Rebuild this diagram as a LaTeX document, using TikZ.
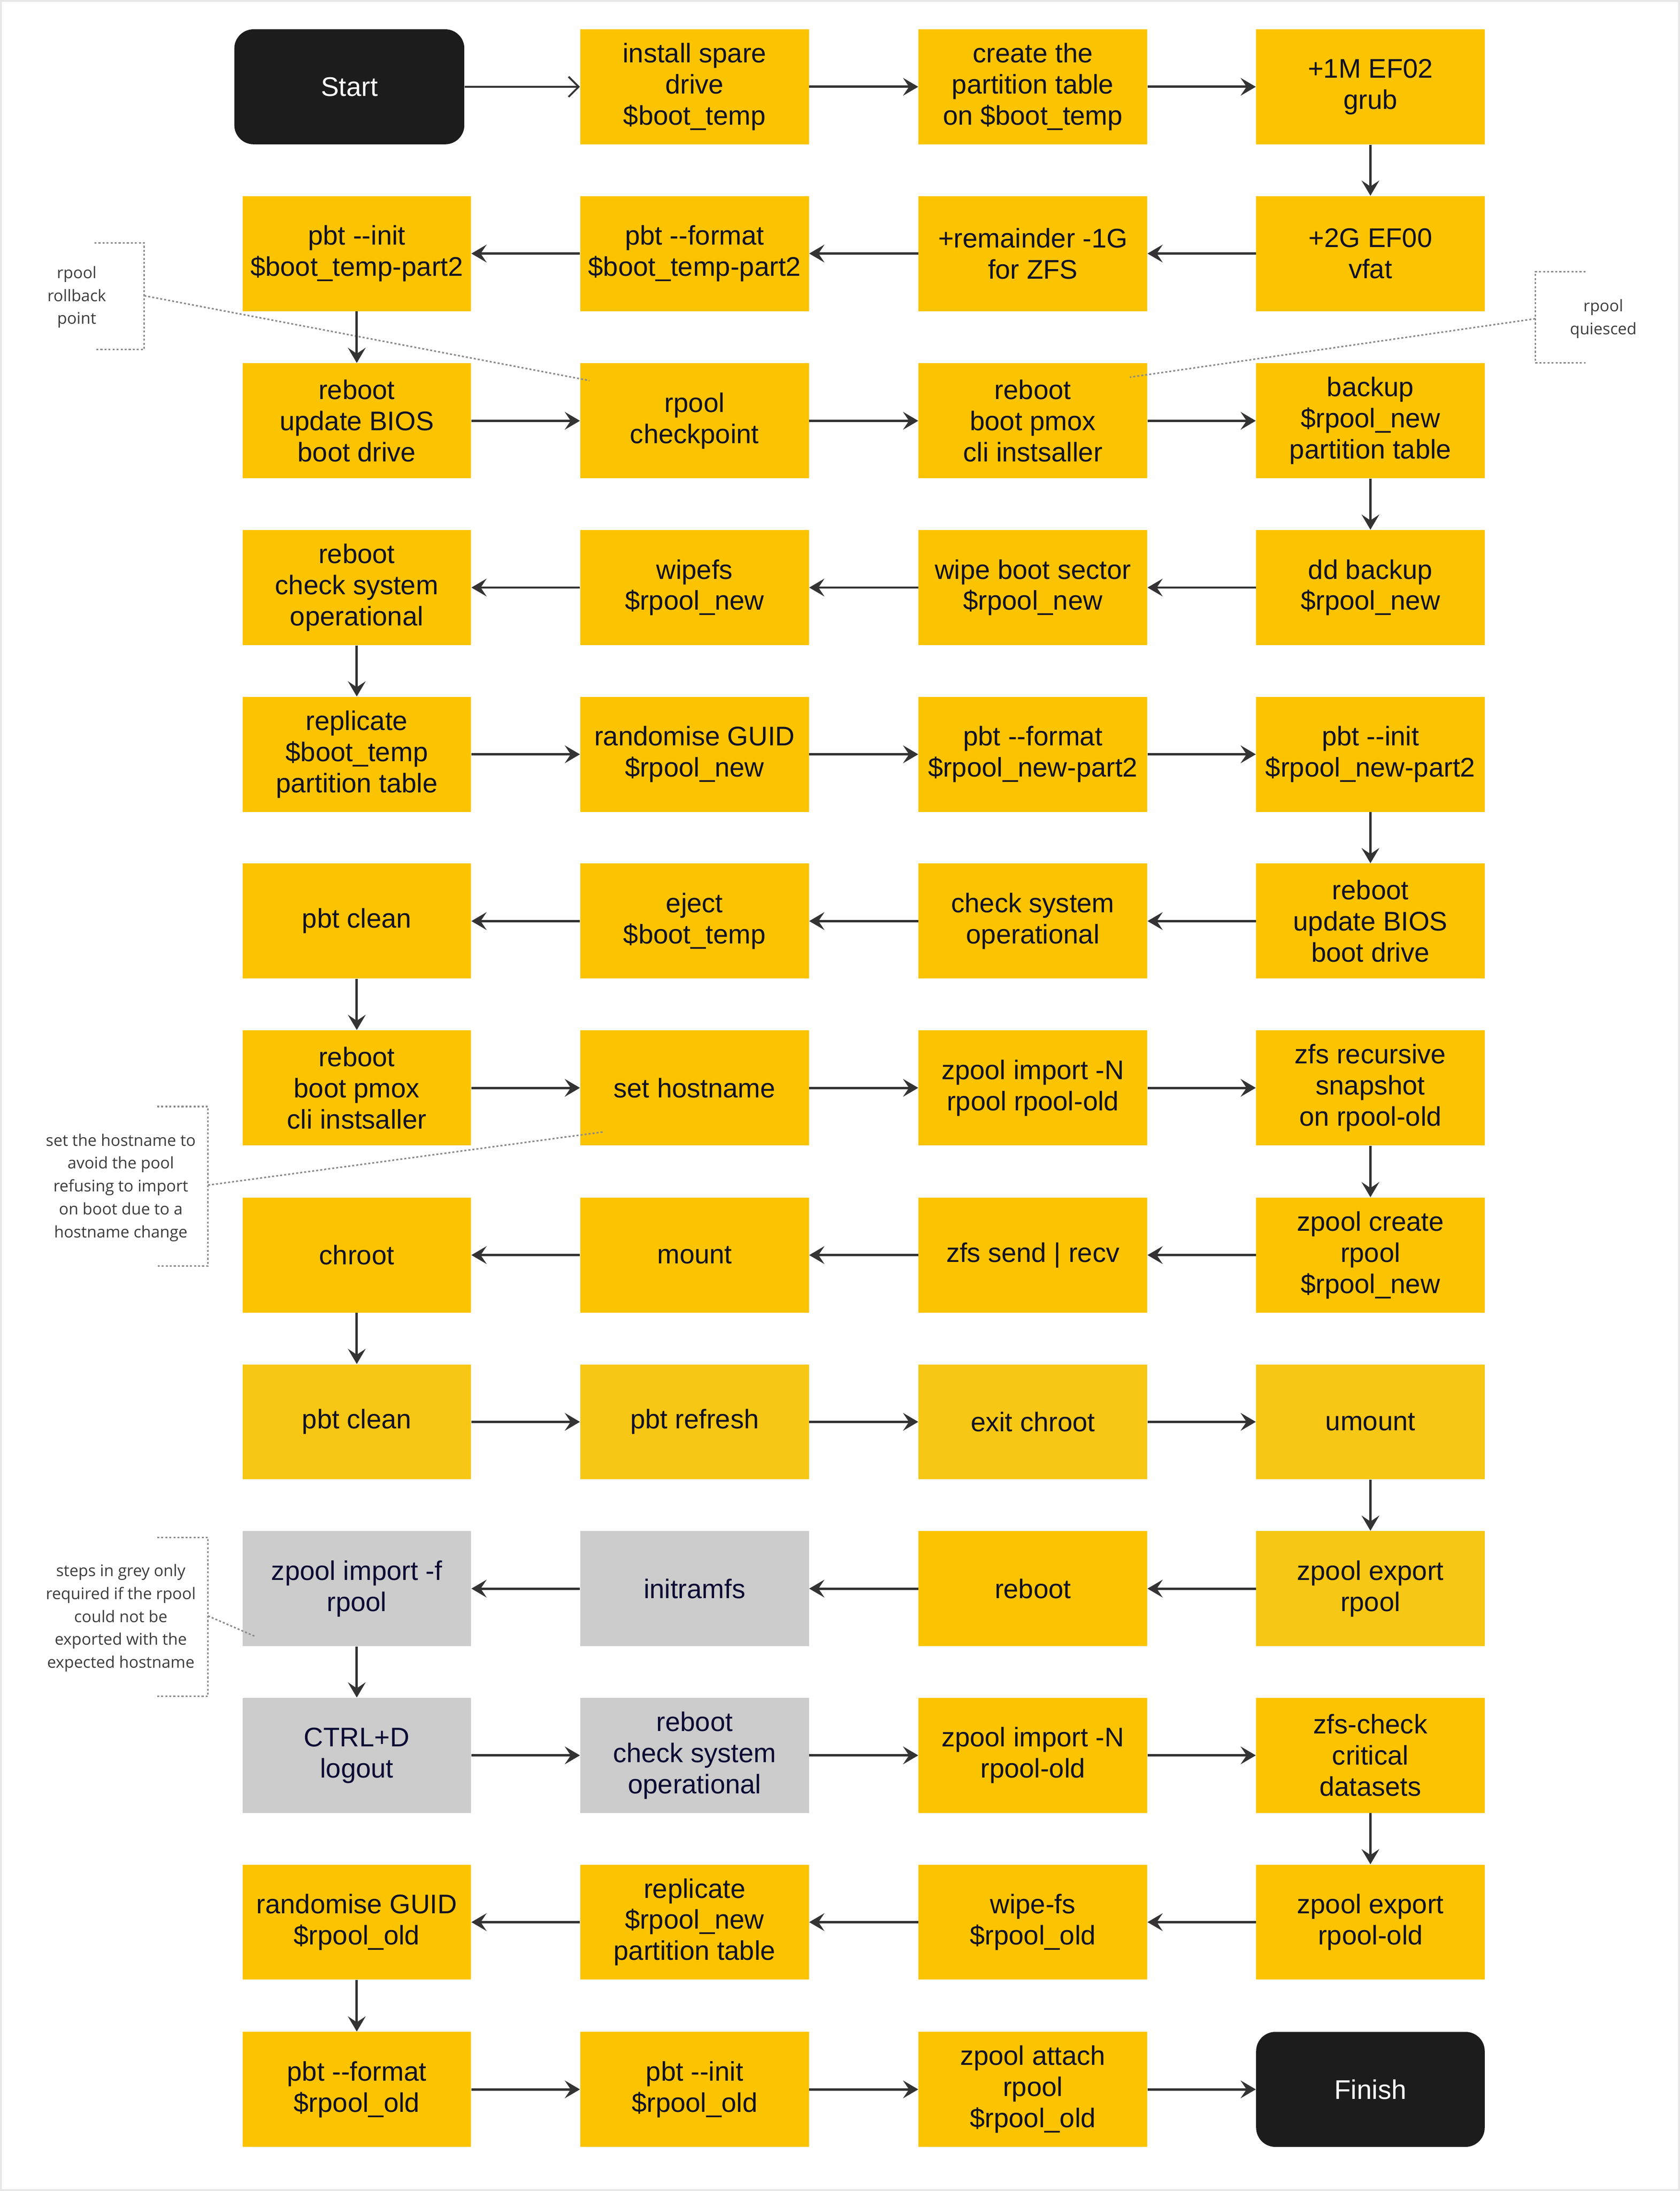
\documentclass[tikz,border=0pt]{standalone}
\usepackage{fontspec}
\setmainfont{Liberation Sans}[Ligatures=TeXOff]
\newfontfamily\notefont{Open Sans}
\usetikzlibrary{arrows.meta}

\definecolor{stepyellow}{HTML}{FCC400}
\definecolor{stepyellowalt}{HTML}{F6C714}
\definecolor{stepgrey}{HTML}{CCCCCC}
\definecolor{steptext}{HTML}{111122}
\definecolor{greytext}{HTML}{0A0A33}
\definecolor{termblack}{HTML}{1C1C1C}
\definecolor{arrowgrey}{HTML}{333333}
\definecolor{dotgrey}{HTML}{8A8A8A}
\definecolor{notetext}{HTML}{3C3C3C}
\definecolor{framegrey}{HTML}{E8E8E8}

\begin{document}
\begin{tikzpicture}[x=1cm, y=1cm,
  every node/.style={draw=none, inner sep=0pt, align=center},
  stepbox/.style={rectangle, fill=stepyellow, text=steptext, minimum width=4.77cm, minimum height=2.4cm, font=\fontsize{16}{18.5}\selectfont},
  stepalt/.style={stepbox, fill=stepyellowalt},
  greybox/.style={stepbox, fill=stepgrey, text=greytext},
  termbox/.style={stepbox, minimum width=4.8cm, fill=termblack, text=white, rounded corners=0.4cm},
  note/.style={text=notetext, font=\notefont\fontsize{9.5}{13.6}\selectfont},
  flow/.style={draw=arrowgrey, line width=1.4pt, -{Stealth[length=9pt, width=10.5pt, inset=3.5pt]}},
  startflow/.style={draw=arrowgrey, line width=1.1pt, -{Straight Barb[length=6pt, width=12pt]}},
  bracket/.style={draw=dotgrey, line width=0.9pt, dash pattern=on 1.2pt off 1.2pt}]
\draw[use as bounding box, fill=white, draw=framegrey, line width=1.2pt] (0,0) rectangle (35.02,-45.68);

% Define the steps, row by row
\node[termbox] (A1) at (7.27,-1.79) {Start};
\node[stepbox] (A2) at (14.475,-1.79) {install spare\\drive\\\$boot\_temp};
\node[stepbox] (A3) at (21.535,-1.79) {create the\\partition table\\on \$boot\_temp};
\node[stepbox] (A4) at (28.58,-1.79) {+1M EF02\\grub};

\node[stepbox] (B1) at (7.425,-5.27) {pbt --init\\\$boot\_temp-part2};
\node[stepbox] (B2) at (14.475,-5.27) {pbt --format\\\$boot\_temp-part2};
\node[stepbox] (B3) at (21.535,-5.27) {+remainder -1G\\for ZFS};
\node[stepbox] (B4) at (28.58,-5.27) {+2G EF00\\vfat};

\node[stepbox] (C1) at (7.425,-8.76) {reboot\\update BIOS\\boot drive};
\node[stepbox] (C2) at (14.475,-8.76) {rpool\\checkpoint};
\node[stepbox] (C3) at (21.535,-8.76) {reboot\\boot pmox\\cli instsaller};
\node[stepbox] (C4) at (28.58,-8.76) {backup\\\$rpool\_new\\partition table};

\node[stepbox] (D1) at (7.425,-12.24) {reboot\\check system\\operational};
\node[stepbox] (D2) at (14.475,-12.24) {wipefs\\\$rpool\_new};
\node[stepbox] (D3) at (21.535,-12.24) {wipe boot sector\\\$rpool\_new};
\node[stepbox] (D4) at (28.58,-12.24) {dd backup\\\$rpool\_new};

\node[stepbox] (E1) at (7.425,-15.72) {replicate\\\$boot\_temp\\partition table};
\node[stepbox] (E2) at (14.475,-15.72) {randomise GUID\\\$rpool\_new};
\node[stepbox] (E3) at (21.535,-15.72) {pbt --format\\\$rpool\_new-part2};
\node[stepbox] (E4) at (28.58,-15.72) {pbt --init\\\$rpool\_new-part2};

\node[stepbox] (F1) at (7.425,-19.20) {pbt clean};
\node[stepbox] (F2) at (14.475,-19.20) {eject\\\$boot\_temp};
\node[stepbox] (F3) at (21.535,-19.20) {check system\\operational};
\node[stepbox] (F4) at (28.58,-19.20) {reboot\\update BIOS\\boot drive};

\node[stepbox] (G1) at (7.425,-22.68) {reboot\\boot pmox\\cli instsaller};
\node[stepbox] (G2) at (14.475,-22.68) {set hostname};
\node[stepbox] (G3) at (21.535,-22.68) {zpool import -N\\rpool rpool-old};
\node[stepbox] (G4) at (28.58,-22.68) {zfs recursive\\snapshot\\on rpool-old};

\node[stepbox] (H1) at (7.425,-26.17) {chroot};
\node[stepbox] (H2) at (14.475,-26.17) {mount};
\node[stepbox] (H3) at (21.535,-26.17) {zfs send | recv};
\node[stepbox] (H4) at (28.58,-26.17) {zpool create\\rpool\\\$rpool\_new};

\node[stepalt] (I1) at (7.425,-29.65) {pbt clean};
\node[stepalt] (I2) at (14.475,-29.65) {pbt refresh};
\node[stepalt] (I3) at (21.535,-29.65) {exit chroot};
\node[stepalt] (I4) at (28.58,-29.65) {umount};

\node[greybox] (J1) at (7.425,-33.13) {zpool import -f\\rpool};
\node[greybox] (J2) at (14.475,-33.13) {initramfs};
\node[stepbox] (J3) at (21.535,-33.13) {reboot};
\node[stepalt] (J4) at (28.58,-33.13) {zpool export\\rpool};

\node[greybox] (K1) at (7.425,-36.61) {CTRL+D\\logout};
\node[greybox] (K2) at (14.475,-36.61) {reboot\\check system\\operational};
\node[stepbox] (K3) at (21.535,-36.61) {zpool import -N\\rpool-old};
\node[stepbox] (K4) at (28.58,-36.61) {zfs-check\\critical\\datasets};

\node[stepbox] (L1) at (7.425,-40.09) {randomise GUID\\\$rpool\_old};
\node[stepbox] (L2) at (14.475,-40.09) {replicate\\\$rpool\_new\\partition table};
\node[stepbox] (L3) at (21.535,-40.09) {wipe-fs\\\$rpool\_old};
\node[stepbox] (L4) at (28.58,-40.09) {zpool export\\rpool-old};

\node[stepbox] (M1) at (7.425,-43.58) {pbt --format\\\$rpool\_old};
\node[stepbox] (M2) at (14.475,-43.58) {pbt --init\\\$rpool\_old};
\node[stepbox] (M3) at (21.535,-43.58) {zpool attach\\rpool\\\$rpool\_old};
\node[termbox, minimum width=4.77cm] (M4) at (28.58,-43.58) {Finish};

% Side notes
\node[note] (N1) at (1.58,-6.18) {rpool\\rollback\\point};
\node[note] (N2) at (33.44,-6.635) {rpool\\quiesced};
\node[note] (N3) at (2.50,-24.76) {set the hostname to\\avoid the pool\\refusing to import\\on boot due to a\\hostname change};
\node[note] (N4) at (2.50,-33.745) {steps in grey only\\required if the rpool\\could not be\\exported with the\\expected hostname};

\coordinate (N1a) at (2.99,-6.15);
\coordinate (N1b) at (12.28,-7.92);
\coordinate (N2a) at (32.02,-6.63);
\coordinate (N2b) at (23.56,-7.85);
\coordinate (N3a) at (4.32,-24.71);
\coordinate (N3b) at (12.57,-23.60);
\coordinate (N4a) at (4.32,-33.70);
\coordinate (N4b) at (5.31,-34.13);

\draw[bracket] (1.95,-5.05) -- (2.99,-5.05) -- (2.99,-7.27) -- (1.95,-7.27);
\draw[bracket] (33.07,-5.65) -- (32.02,-5.65) -- (32.02,-7.55) -- (33.07,-7.55);
\draw[bracket] (3.26,-23.07) -- (4.32,-23.07) -- (4.32,-26.40) -- (3.26,-26.40);
\draw[bracket] (3.26,-32.06) -- (4.32,-32.06) -- (4.32,-35.38) -- (3.26,-35.38);

\draw[bracket] (N1a) -- (N1b);
\draw[bracket] (N2a) -- (N2b);
\draw[bracket] (N3a) -- (N3b);
\draw[bracket] (N4a) -- (N4b);

% Draw the flow between the steps
\draw[startflow] (A1) -- (A2);
\draw[flow] (A2) -- (A3);
\draw[flow] (A3) -- (A4);
\draw[flow] (A4) -- (B4);
\draw[flow] (B4) -- (B3);
\draw[flow] (B3) -- (B2);
\draw[flow] (B2) -- (B1);
\draw[flow] (B1) -- (C1);
\draw[flow] (C1) -- (C2);
\draw[flow] (C2) -- (C3);
\draw[flow] (C3) -- (C4);
\draw[flow] (C4) -- (D4);
\draw[flow] (D4) -- (D3);
\draw[flow] (D3) -- (D2);
\draw[flow] (D2) -- (D1);
\draw[flow] (D1) -- (E1);
\draw[flow] (E1) -- (E2);
\draw[flow] (E2) -- (E3);
\draw[flow] (E3) -- (E4);
\draw[flow] (E4) -- (F4);
\draw[flow] (F4) -- (F3);
\draw[flow] (F3) -- (F2);
\draw[flow] (F2) -- (F1);
\draw[flow] (F1) -- (G1);
\draw[flow] (G1) -- (G2);
\draw[flow] (G2) -- (G3);
\draw[flow] (G3) -- (G4);
\draw[flow] (G4) -- (H4);
\draw[flow] (H4) -- (H3);
\draw[flow] (H3) -- (H2);
\draw[flow] (H2) -- (H1);
\draw[flow] (H1) -- (I1);
\draw[flow] (I1) -- (I2);
\draw[flow] (I2) -- (I3);
\draw[flow] (I3) -- (I4);
\draw[flow] (I4) -- (J4);
\draw[flow] (J4) -- (J3);
\draw[flow] (J3) -- (J2);
\draw[flow] (J2) -- (J1);
\draw[flow] (J1) -- (K1);
\draw[flow] (K1) -- (K2);
\draw[flow] (K2) -- (K3);
\draw[flow] (K3) -- (K4);
\draw[flow] (K4) -- (L4);
\draw[flow] (L4) -- (L3);
\draw[flow] (L3) -- (L2);
\draw[flow] (L2) -- (L1);
\draw[flow] (L1) -- (M1);
\draw[flow] (M1) -- (M2);
\draw[flow] (M2) -- (M3);
\draw[flow] (M3) -- (M4);
\end{tikzpicture}
\end{document}
